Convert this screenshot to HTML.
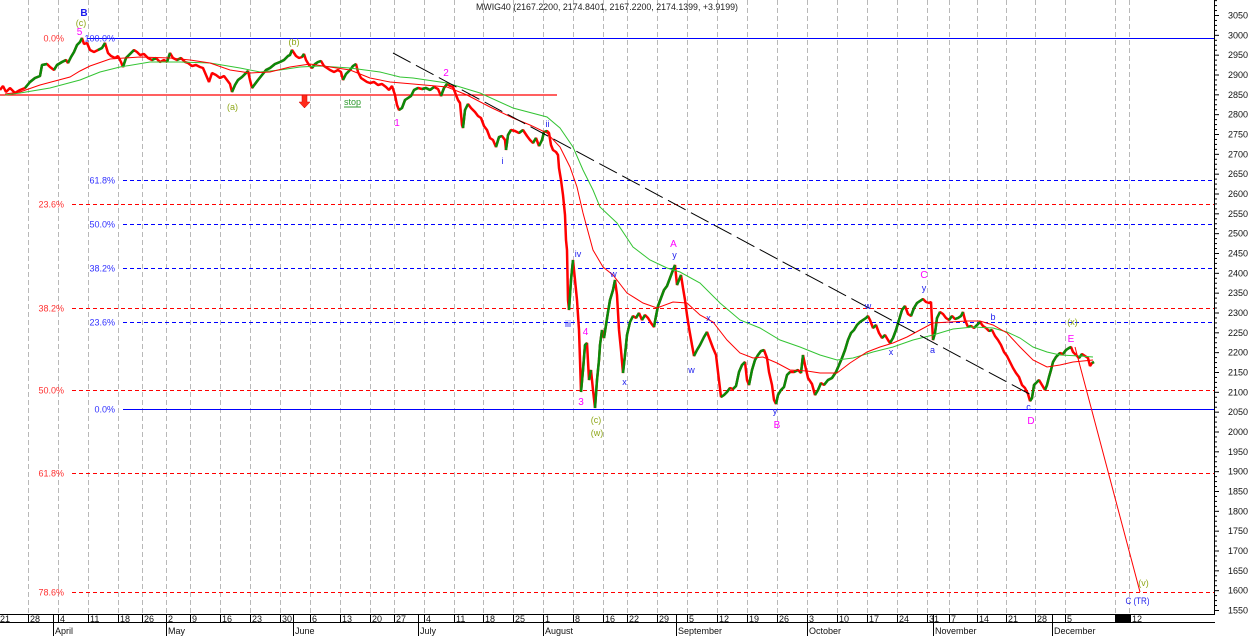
<!DOCTYPE html>
<html><head><meta charset="utf-8"><style>
html,body{margin:0;padding:0;background:#fff;}
svg{display:block;}
text{font-family:"Liberation Sans",Arial,sans-serif;}
</style></head><body>
<svg xmlns="http://www.w3.org/2000/svg" width="1250" height="636" viewBox="0 0 1250 636">
<defs>
<pattern id="yt" patternUnits="userSpaceOnUse" x="1214" y="15" width="6" height="19.8333">
<path d="M0 0.5h5M0 5.46h3M0 10.42h3M0 15.38h3" stroke="#000" stroke-width="1"/>
</pattern>
</defs>
<rect width="1250" height="636" fill="#fff"/>

<!-- vertical gridlines -->
<g stroke="#b8b8b8" stroke-width="1" stroke-dasharray="5,3">
<path d="M28.5 0V613M58.5 0V613M88.5 0V613M118.5 0V613M142.5 0V613M166.5 0V613M190.5 0V613M220.5 0V613M250.5 0V613M280.5 0V613M310.5 0V613M340.5 0V613M370.5 0V613M394.5 0V613M424.5 0V613M454.5 0V613M483.5 0V613M513.5 0V613M543.5 0V613M573.5 0V613M603.5 0V613M627.5 0V613M657.5 0V613M687.5 0V613M717.5 0V613M747.5 0V613M777.5 0V613M807.5 0V613M837.5 0V613M867.5 0V613M897.5 0V613M927.5 0V613M949.5 0V613M977.5 0V613M1006.5 0V613M1035.5 0V613M1065.5 0V613M1115.5 0V613M1129.5 0V613"/>
</g>

<!-- fib lines -->
<g stroke-width="1" fill="none">
<line x1="72" y1="204.5" x2="1214" y2="204.5" stroke="#ff0000" stroke-dasharray="4,3"/>
<line x1="72" y1="308.5" x2="1214" y2="308.5" stroke="#ff0000" stroke-dasharray="4,3"/>
<line x1="72" y1="390.5" x2="1214" y2="390.5" stroke="#ff0000" stroke-dasharray="4,3"/>
<line x1="72" y1="473.5" x2="1214" y2="473.5" stroke="#ff0000" stroke-dasharray="4,3"/>
<line x1="72" y1="592.5" x2="1214" y2="592.5" stroke="#ff0000" stroke-dasharray="4,3"/>
<line x1="123" y1="180.5" x2="1214" y2="180.5" stroke="#0000ff" stroke-dasharray="4,3"/>
<line x1="123" y1="224.5" x2="1214" y2="224.5" stroke="#0000ff" stroke-dasharray="4,3"/>
<line x1="123" y1="268.5" x2="1214" y2="268.5" stroke="#0000ff" stroke-dasharray="4,3"/>
<line x1="123" y1="322.5" x2="1214" y2="322.5" stroke="#0000ff" stroke-dasharray="4,3"/>
<line x1="123" y1="409.5" x2="1214" y2="409.5" stroke="#0000ff"/>
<line x1="0" y1="95" x2="557" y2="95" stroke="#ff0000" stroke-width="1.2"/>
<line x1="87" y1="38.5" x2="1214" y2="38.5" stroke="#0000ff"/>
</g>

<!-- fib labels -->
<g font-size="9" text-anchor="end">
<text x="64" y="41.5" fill="#ff3030">0.0%</text>
<text x="64" y="207.5" fill="#ff3030">23.6%</text>
<text x="64" y="311.5" fill="#ff3030">38.2%</text>
<text x="64" y="393.5" fill="#ff3030">50.0%</text>
<text x="64" y="476.5" fill="#ff3030">61.8%</text>
<text x="64" y="595.5" fill="#ff3030">78.6%</text>
<text x="115" y="41.5" fill="#3030ff">100.0%</text>
<text x="115" y="183.5" fill="#3030ff">61.8%</text>
<text x="115" y="227.5" fill="#3030ff">50.0%</text>
<text x="115" y="271.5" fill="#3030ff">38.2%</text>
<text x="115" y="325.5" fill="#3030ff">23.6%</text>
<text x="115" y="412.5" fill="#3030ff">0.0%</text>
</g>

<!-- price base (red) -->
<g fill="none" stroke-width="2.5" stroke-linejoin="bevel">
<polyline stroke="#ff0000" points="0,90 3,86 6,92 10,88 15,93 20,90 25,88 30,82 35,78 40,76 42,65 47,64 50,67 54,70 57,65 62,62 66,60 68,63 71,57 74,52 77,45 80,42 82,38 84,44 87,43 90,50 94,52 98,50 102,48 105,43 108,53 111,56 115,58 118,56 121,62 123,67 126,58 130,54 134,50 137,52 140,55 144,54 148,58 152,60 156,58 160,62 164,60 167,62 170,53 173,58 177,60 181,58 185,62 188,63 192,66 196,65 200,67 203,68 206,75 209,82 212,73 216,75 220,78 224,76 227,80 230,84 232,92 235,85 238,80 242,77 246,73 248,71 250,80 252,88 255,84 258,80 262,75 266,70 270,68 275,64 280,62 284,60 288,56 290,55 292,50 294,53 296,56 299,58 302,57 304,54 306,60 309,65 312,68 315,64 318,62 321,61 324,66 327,68 330,70 334,72 338,70 341,72 343,80 346,74 350,70 353,66 356,64 358,72 361,78 364,80 367,82 370,83 374,82 378,85 382,84 386,87 389,90 392,86 395,95 397,105 399,110 402,108 405,100 408,98 411,96 414,90 418,88 422,89 426,88 430,90 434,87 438,89 441,96 444,88 447,84 450,86 453,87 456,95 458,100 460,103 462,125 463,128 465,110 468,104 471,108 475,112 478,116 481,118 484,126 487,130 490,138 493,140 496,147 499,137 502,136 505,140 506,150 508,135 511,130 515,131 519,133 523,130 527,136 530,140 533,143 536,138 539,146 542,140 544,132 547,131 549,133 551,145 553,150 556,152 558,155 559,168 561,180 563,195 565,215 566,240 567,250 568,300 569,310 571,280 573,260 575,280 577,300 579,330 580,360 581,392 583,370 585,345 587,343 589,380 591,370 593,390 595,408 597,380 599,360 600,345 602,330 604,338 606,325 608,312 610,300 613,290 615,280 617,295 619,330 621,350 623,373 625,355 627,335 630,322 633,316 636,318 639,313 642,320 645,315 648,318 651,323 654,327 656,316 658,306 661,298 664,290 667,286 670,278 673,270 675,265 677,285 679,280 681,275 683,288 685,300 687,315 689,328 692,345 694,356 697,350 700,345 704,337 707,332 710,340 713,348 716,355 718,372 721,397 724,395 727,392 730,388 733,389 736,386 739,372 742,365 745,362 747,380 749,385 752,370 755,360 758,355 761,351 764,350 767,358 769,372 772,385 774,400 776,404 778,395 781,390 784,387 787,375 790,372 794,372 798,370 801,373 803,355 805,365 808,378 812,384 815,395 818,390 821,383 824,385 828,380 832,378 836,372 839,365 842,358 845,350 848,340 851,333 854,330 857,325 860,322 863,320 866,318 868,316 870,320 873,328 876,325 879,333 882,338 885,335 888,340 890,343 893,338 896,330 899,320 902,310 905,306 908,314 911,316 914,308 917,303 920,301 923,299 926,302 929,303 931,302 933,340 935,333 937,318 940,312 943,314 946,318 949,320 952,316 955,319 958,318 961,316 963,312 965,320 968,327 971,326 974,328 977,325 980,322 983,326 986,328 989,331 992,330 995,336 998,340 1001,345 1004,352 1007,356 1010,362 1013,368 1016,373 1019,377 1022,385 1025,388 1028,394 1030,401 1032,398 1034,385 1036,383 1039,380 1042,385 1045,390 1047,385 1049,377 1051,370 1053,362 1056,357 1060,353 1063,354 1066,350 1069,348 1071,347 1073,352 1076,355 1079,358 1082,354 1085,356 1088,358 1090,366 1092,363 1094,362"/>
</g>
<!-- green up legs -->
<g fill="none" stroke="#0a8a0a" stroke-width="2.5" stroke-linejoin="bevel">
<polyline points="25,88 30,82 35,78 40,76 42,65 47,64"/>
<polyline points="54,70 57,65 62,62 66,60"/>
<polyline points="68,63 71,57 74,52 77,45 80,42 82,38"/>
<polyline points="98,50 102,48 105,43"/>
<polyline points="123,67 126,58 130,54 134,50"/>
<polyline points="152,60 156,58"/>
<polyline points="167,62 170,53"/>
<polyline points="177,60 181,58"/>
<polyline points="232,92 235,85 238,80 242,77 246,73 248,71"/>
<polyline points="252,88 255,84 258,80 262,75 266,70 270,68 275,64 280,62 284,60 288,56 290,55 292,50"/>
<polyline points="302,57 304,54"/>
<polyline points="312,68 315,64 318,62 321,61"/>
<polyline points="343,80 346,74 350,70 353,66 356,64"/>
<polyline points="399,110 402,108 405,100 408,98 411,96 414,90 418,88"/>
<polyline points="422,89 426,88 430,90 434,87"/>
<polyline points="441,96 444,88 447,84"/>
<polyline points="463,128 465,110 468,104"/>
<polyline points="496,147 499,137 502,136"/>
<polyline points="506,150 508,135 511,130"/>
<polyline points="519,133 523,130"/>
<polyline points="533,143 536,138"/>
<polyline points="539,146 542,140 544,132 547,131"/>
<polyline points="569,310 571,280 573,260"/>
<polyline points="581,392 583,370 585,345 587,343"/>
<polyline points="589,380 591,370"/>
<polyline points="595,408 597,380 599,360 600,345 602,330"/>
<polyline points="604,338 606,325 608,312 610,300 613,290 615,280"/>
<polyline points="623,373 625,355 627,335 630,322 633,316"/>
<polyline points="636,318 639,313"/>
<polyline points="642,320 645,315"/>
<polyline points="654,327 656,316 658,306 661,298 664,290 667,286 670,278 673,270 675,265"/>
<polyline points="677,285 679,280 681,275"/>
<polyline points="694,356 697,350 700,345 704,337 707,332"/>
<polyline points="721,397 724,395 727,392 730,388"/>
<polyline points="733,389 736,386 739,372 742,365 745,362"/>
<polyline points="749,385 752,370 755,360 758,355 761,351 764,350"/>
<polyline points="776,404 778,395 781,390 784,387 787,375 790,372"/>
<polyline points="794,372 798,370"/>
<polyline points="801,373 803,355"/>
<polyline points="815,395 818,390 821,383"/>
<polyline points="824,385 828,380 832,378 836,372 839,365 842,358 845,350 848,340 851,333 854,330 857,325 860,322 863,320 866,318 868,316"/>
<polyline points="873,328 876,325"/>
<polyline points="882,338 885,335"/>
<polyline points="890,343 893,338 896,330 899,320 902,310 905,306"/>
<polyline points="911,316 914,308 917,303 920,301 923,299"/>
<polyline points="933,340 935,333 937,318 940,312"/>
<polyline points="949,320 952,316"/>
<polyline points="955,319 958,318 961,316 963,312"/>
<polyline points="968,327 971,326"/>
<polyline points="974,328 977,325 980,322"/>
<polyline points="989,331 992,330"/>
<polyline points="1030,401 1032,398 1034,385 1036,383 1039,380"/>
<polyline points="1045,390 1047,385 1049,377 1051,370 1053,362 1056,357 1060,353"/>
<polyline points="1063,354 1066,350 1069,348 1071,347"/>
<polyline points="1079,358 1082,354"/>
<polyline points="1092,363 1094,362"/>
</g>

<!-- moving averages -->
<polyline fill="none" stroke="#33c433" stroke-width="1" points="5,95 20,93 50,88 80,80 100,72 120,67 150,62 180,62 210,63 240,68 260,72 280,70 300,67 320,66 350,68 380,72 400,77 413,78 447,83 480,93 513,108 547,117 560,128 573,147 583,170 593,190 600,207 617,223 633,247 650,260 667,268 680,272 700,283 720,303 740,320 760,328 780,340 800,347 820,355 837,360 853,358 873,352 893,347 913,340 933,335 953,329 973,327 993,328 1007,332 1020,338 1033,347 1047,352 1060,355 1080,356 1093,357"/>
<polyline fill="none" stroke="#ff0000" stroke-width="1" points="5,94 20,92 40,85 70,77 80,71 90,66 110,59 140,57 170,58 190,60 210,63 230,70 250,73 270,72 290,67 310,64 330,67 350,70 370,78 390,82 413,84 447,87 467,95 490,107 513,118 530,125 547,133 560,147 570,167 577,187 583,213 593,250 603,267 613,275 627,293 643,303 657,308 673,302 687,303 700,315 713,322 727,340 740,353 753,358 763,357 777,363 790,370 807,371 820,373 837,373 850,363 867,352 880,347 893,343 907,337 920,330 933,323 950,322 967,321 980,321 993,325 1007,333 1020,347 1033,360 1047,367 1060,365 1073,362 1093,360"/>

<!-- trendline -->
<line x1="393" y1="53" x2="1035" y2="397" stroke="#000" stroke-width="1" stroke-dasharray="20,6"/>
<!-- projection -->
<line x1="1075" y1="347" x2="1140" y2="592" stroke="#ff0000" stroke-width="1"/>

<!-- arrow -->
<polygon points="302,95 307,95 307,102 310,102 304.5,108 299,102 302,102" fill="#ff2a1a" stroke="#d00000" stroke-width="0.5"/>
<text x="344" y="105" font-size="9" fill="#2e9a2e">stop</text>
<line x1="344" y1="107" x2="361" y2="107" stroke="#2e9a2e" stroke-width="1"/>

<!-- wave labels -->
<g text-anchor="middle">
<text x="84" y="16" font-size="10" font-weight="bold" fill="#1a1aee">B</text>
<text x="81" y="26" font-size="9" fill="#8fa81a">(c)</text>
<text x="79.5" y="35" font-size="10" fill="#ff00ff">5</text>
<text x="232.5" y="110" font-size="9" fill="#8fa81a">(a)</text>
<text x="294" y="45" font-size="9" fill="#8fa81a">(b)</text>
<text x="397" y="126" font-size="10" fill="#ff00ff">1</text>
<text x="446" y="76" font-size="10" fill="#ff00ff">2</text>
<text x="502.5" y="164" font-size="9" fill="#2222ee">i</text>
<text x="547.5" y="127" font-size="9" fill="#2222ee">ii</text>
<text x="578" y="257" font-size="9" fill="#2222ee">iv</text>
<text x="568" y="327" font-size="9" fill="#2222ee">iii</text>
<text x="585.5" y="335" font-size="10" fill="#ff00ff">4</text>
<text x="581" y="405" font-size="10" fill="#ff00ff">3</text>
<text x="596" y="423" font-size="9" fill="#8fa81a">(c)</text>
<text x="597" y="436" font-size="9" fill="#8fa81a">(w)</text>
<text x="613.5" y="277" font-size="9" fill="#2222ee">w</text>
<text x="624.5" y="385" font-size="9" fill="#2222ee">x</text>
<text x="673.5" y="247" font-size="10" fill="#ff00ff">A</text>
<text x="674.5" y="258" font-size="9" fill="#2222ee">y</text>
<text x="708.5" y="321" font-size="9" fill="#2222ee">x</text>
<text x="691.5" y="373" font-size="9" fill="#2222ee">w</text>
<text x="775" y="414" font-size="9" fill="#2222ee">y</text>
<text x="777" y="428" font-size="10" fill="#ff00ff">B</text>
<text x="868" y="309" font-size="9" fill="#2222ee">w</text>
<text x="891" y="355" font-size="9" fill="#2222ee">x</text>
<text x="924" y="278" font-size="10" fill="#ff00ff">C</text>
<text x="924" y="291" font-size="9" fill="#2222ee">y</text>
<text x="932.5" y="353" font-size="9" fill="#2222ee">a</text>
<text x="993" y="320" font-size="9" fill="#2222ee">b</text>
<text x="1072.5" y="325" font-size="9" fill="#8fa81a">(x)</text>
<text x="1071" y="342" font-size="10" fill="#ff00ff">E</text>
<text x="1028.5" y="410" font-size="9" fill="#2222ee">c</text>
<text x="1031" y="424" font-size="10" fill="#ff00ff">D</text>
<text x="1143.5" y="586" font-size="9" fill="#8fa81a">(v)</text>
<text x="1137.5" y="604" font-size="9" fill="#2222ee" textLength="24" lengthAdjust="spacingAndGlyphs">C (TR)</text>
</g>

<!-- title -->
<text x="476" y="10" font-size="9" fill="#222" textLength="262" lengthAdjust="spacingAndGlyphs">MWIG40 (2167.2200, 2174.8401, 2167.2200, 2174.1399, +3.9199)</text>

<!-- y axis -->
<line x1="1214.5" y1="0" x2="1214.5" y2="614" stroke="#000" stroke-width="1"/>
<rect x="1214" y="0" width="6" height="613" fill="url(#yt)"/>
<g font-size="9" fill="#111">
<text x="1228" y="18.5">3050</text>
<text x="1228" y="38.3">3000</text>
<text x="1228" y="58.2">2950</text>
<text x="1228" y="78">2900</text>
<text x="1228" y="97.8">2850</text>
<text x="1228" y="117.7">2800</text>
<text x="1228" y="137.5">2750</text>
<text x="1228" y="157.3">2700</text>
<text x="1228" y="177.2">2650</text>
<text x="1228" y="197">2600</text>
<text x="1228" y="216.8">2550</text>
<text x="1228" y="236.7">2500</text>
<text x="1228" y="256.5">2450</text>
<text x="1228" y="276.3">2400</text>
<text x="1228" y="296.2">2350</text>
<text x="1228" y="316">2300</text>
<text x="1228" y="335.8">2250</text>
<text x="1228" y="355.7">2200</text>
<text x="1228" y="375.5">2150</text>
<text x="1228" y="395.3">2100</text>
<text x="1228" y="415.2">2050</text>
<text x="1228" y="435">2000</text>
<text x="1228" y="454.8">1950</text>
<text x="1228" y="474.7">1900</text>
<text x="1228" y="494.5">1850</text>
<text x="1228" y="514.3">1800</text>
<text x="1228" y="534.2">1750</text>
<text x="1228" y="554">1700</text>
<text x="1228" y="573.8">1650</text>
<text x="1228" y="593.7">1600</text>
<text x="1228" y="613.5">1550</text>
</g>

<!-- date axis -->
<rect x="0" y="614" width="1215" height="22" fill="#fff"/>
<g stroke="#000" stroke-width="1">
<line x1="0" y1="614.5" x2="1215" y2="614.5"/>
<line x1="0" y1="622.5" x2="1215" y2="622.5"/>
<path d="M28.5 614V623M58.5 614V623M88.5 614V623M118.5 614V623M142.5 614V623M190.5 614V623M220.5 614V623M250.5 614V623M280.5 614V623M310.5 614V623M340.5 614V623M370.5 614V623M394.5 614V623M424.5 614V623M454.5 614V623M483.5 614V623M513.5 614V623M573.5 614V623M603.5 614V623M627.5 614V623M657.5 614V623M687.5 614V623M717.5 614V623M747.5 614V623M777.5 614V623M837.5 614V623M867.5 614V623M897.5 614V623M927.5 614V623M949.5 614V623M977.5 614V623M1006.5 614V623M1035.5 614V623M1065.5 614V623M1130.5 614V623"/>
<path d="M53.5 614V636M166.5 614V636M293.5 614V636M418.5 614V636M543.5 614V636M676.5 614V636M807.5 614V636M933.5 614V636M1052.5 614V636"/>
</g>
<rect x="1115" y="614" width="15" height="9" fill="#000"/>
<g font-size="9" fill="#111">
<text x="0" y="622">21</text>
<text x="30" y="622">28</text>
<text x="60" y="622">4</text>
<text x="90" y="622">11</text>
<text x="120" y="622">18</text>
<text x="144" y="622">26</text>
<text x="168" y="622">2</text>
<text x="192" y="622">9</text>
<text x="222" y="622">16</text>
<text x="252" y="622">23</text>
<text x="282" y="622">30</text>
<text x="312" y="622">6</text>
<text x="342" y="622">13</text>
<text x="372" y="622">20</text>
<text x="396" y="622">27</text>
<text x="426" y="622">4</text>
<text x="456" y="622">11</text>
<text x="485" y="622">18</text>
<text x="515" y="622">25</text>
<text x="545" y="622">1</text>
<text x="575" y="622">8</text>
<text x="605" y="622">16</text>
<text x="629" y="622">22</text>
<text x="659" y="622">29</text>
<text x="689" y="622">5</text>
<text x="719" y="622">12</text>
<text x="749" y="622">19</text>
<text x="779" y="622">26</text>
<text x="809" y="622">3</text>
<text x="839" y="622">10</text>
<text x="869" y="622">17</text>
<text x="899" y="622">24</text>
<text x="929" y="622">31</text>
<text x="951" y="622">7</text>
<text x="979" y="622">14</text>
<text x="1008" y="622">21</text>
<text x="1037" y="622">28</text>
<text x="1067" y="622">5</text>
<text x="1132" y="622">12</text>
<text x="55" y="634">April</text>
<text x="168" y="634">May</text>
<text x="295" y="634">June</text>
<text x="420" y="634">July</text>
<text x="545" y="634">August</text>
<text x="678" y="634">September</text>
<text x="809" y="634">October</text>
<text x="935" y="634">November</text>
<text x="1054" y="634">December</text>
</g>
</svg>
</body></html>
